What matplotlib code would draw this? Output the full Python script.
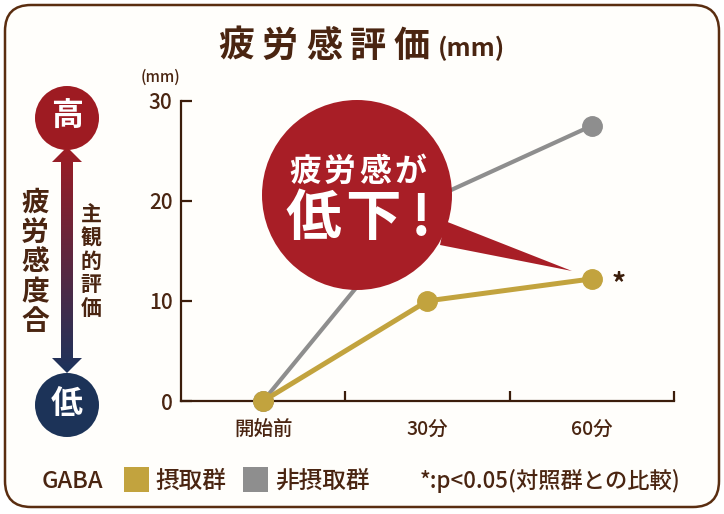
import numpy as np
import matplotlib.pyplot as plt
from matplotlib.patches import Circle, Polygon, FancyBboxPatch, Rectangle

plt.rcParams["font.family"] = ["Noto Sans CJK JP", "DejaVu Sans"]
plt.rcParams["font.weight"] = "medium"

categories = ["開始前", "30分", "60分"]
gaba = [0, 10, 12.2]
control = [0, 20, 27.5]
y_ticks = [0, 10, 20, 30]

BROWN = "#4a2511"
AXIS = "#3b1d0b"
GOLD = "#c2a33e"
GRAY = "#8e8e8e"
RED = "#a81e26"
NAVY = "#1c3358"

W, H = 724, 514
fig = plt.figure(figsize=(W / 100, H / 100), dpi=100)
fig.patch.set_facecolor("white")

# background layer (pixel coords, y down)
bg = fig.add_axes([0, 0, 1, 1], zorder=0)
bg.axis("off")
bg.add_patch(FancyBboxPatch((5, 5), 714, 502, boxstyle="round,pad=0,rounding_size=26",
                            fc="#fffefb", ec="#5a2d10", lw=1.8))

# title, spaced characters
for i, ch in enumerate("疲労感評価"):
    bg.text(236 + 44 * i, 46, ch, fontsize=26, fontweight="bold", color=BROWN,
            ha="center", va="center")
bg.text(472, 48, "(mm)", fontsize=18, fontweight="bold", color=BROWN, ha="center", va="center")
bg.text(161, 77, "(mm)", fontsize=11, color=BROWN, ha="center", va="center")

# left scale graphic
arrow = Polygon([(67, 147), (82, 162), (73, 162), (73, 358), (82, 358), (67, 373),
                 (52, 358), (61, 358), (61, 162), (52, 162)], closed=True, fc="none", ec="none")
bg.add_patch(arrow)
c_top = np.array([0.62, 0.11, 0.14])
c_bot = np.array([0.11, 0.20, 0.36])
t = np.linspace(0, 1, 200)[:, None]
grad = (c_top * (1 - t) + c_bot * t)[:, None, :]
im = bg.imshow(grad, extent=(52, 82, 373, 147), aspect="auto", zorder=1)
im.set_clip_path(arrow)
bg.add_patch(Circle((67, 118), 32, fc="#9e1b22", ec="none", zorder=2))
bg.add_patch(Circle((67, 405), 32, fc=NAVY, ec="none", zorder=2))
bg.text(67, 117, "高", fontsize=23, fontweight="bold", color="white", ha="center", va="center", zorder=3)
bg.text(67, 404, "低", fontsize=23, fontweight="bold", color="white", ha="center", va="center", zorder=3)
for i, ch in enumerate("疲労感度合"):
    bg.text(35, 203 + 29.7 * i, ch, fontsize=20, fontweight="bold", color=BROWN,
            ha="center", va="center")
for i, ch in enumerate("主観的評価"):
    bg.text(91, 215 + 23.3 * i, ch, fontsize=15, fontweight="bold", color=BROWN,
            ha="center", va="center")

# legend row
bg.text(42, 481, "GABA", fontsize=17, color=BROWN, ha="left", va="center")
bg.add_patch(Rectangle((124, 467), 25, 25, fc=GOLD, ec="none"))
bg.text(155, 481, "摂取群", fontsize=17, color=BROWN, ha="left", va="center")
bg.add_patch(Rectangle((243, 467), 25, 25, fc=GRAY, ec="none"))
bg.text(275, 481, "非摂取群", fontsize=17, color=BROWN, ha="left", va="center")
bg.text(420, 481, "*:p<0.05(対照群との比較)", fontsize=16, color=BROWN, ha="left", va="center")
bg.set_xlim(0, W)
bg.set_ylim(H, 0)

# main chart
ax = fig.add_axes([181 / W, (H - 401) / H, (674 - 181) / W, (401 - 100.7) / H], zorder=2)
ax.patch.set_alpha(0)
x = np.arange(len(categories))
ax.plot(x, control, color=GRAY, lw=3, marker="o", ms=14, clip_on=False, zorder=3)
ax.plot(x, gaba, color=GOLD, lw=3.6, marker="o", ms=14, clip_on=False, zorder=4)
ax.annotate("*", (x[2], gaba[2]), xytext=(19, -4), textcoords="offset points",
            fontsize=20, fontweight="bold", color=AXIS, ha="center", va="center")

ax.set_xlim(-0.5, 2.5)
ax.set_ylim(0, 30)
for s in ["top", "right"]:
    ax.spines[s].set_visible(False)
for s in ["left", "bottom"]:
    ax.spines[s].set_color(AXIS)
    ax.spines[s].set_linewidth(1.6)
ax.set_yticks(y_ticks)
ax.tick_params(axis="y", direction="in", length=8, width=1.6, color=AXIS, pad=6,
               labelsize=15, labelcolor=BROWN)
ax.set_xticks(x, categories)
ax.tick_params(axis="x", which="major", length=0, pad=14, labelsize=14, labelcolor=BROWN)
ax.set_xticks([0.5, 1.5, 2.5], minor=True)
ax.tick_params(axis="x", which="minor", direction="in", length=7.5, width=1.6, color=AXIS)

# callout bubble on top
ov = fig.add_axes([0, 0, 1, 1], zorder=5)
ov.axis("off")
ov.add_patch(Circle((357, 195), 95, fc=RED, ec="none"))
ov.add_patch(Polygon([(445, 221), (440, 245), (572, 271)], closed=True, fc=RED, ec="none"))
for i, ch in enumerate("疲労感が"):
    ov.text(305 + 35 * i, 172, ch, fontsize=23, fontweight="bold", color="white",
            ha="center", va="center")
for cx, ch in zip([313, 373, 421], "低下!"):
    ov.text(cx, 219, ch, fontsize=40, fontweight="bold", color="white", ha="center", va="center")
ov.set_xlim(0, W)
ov.set_ylim(H, 0)

fig.savefig("out.png", dpi=100)
